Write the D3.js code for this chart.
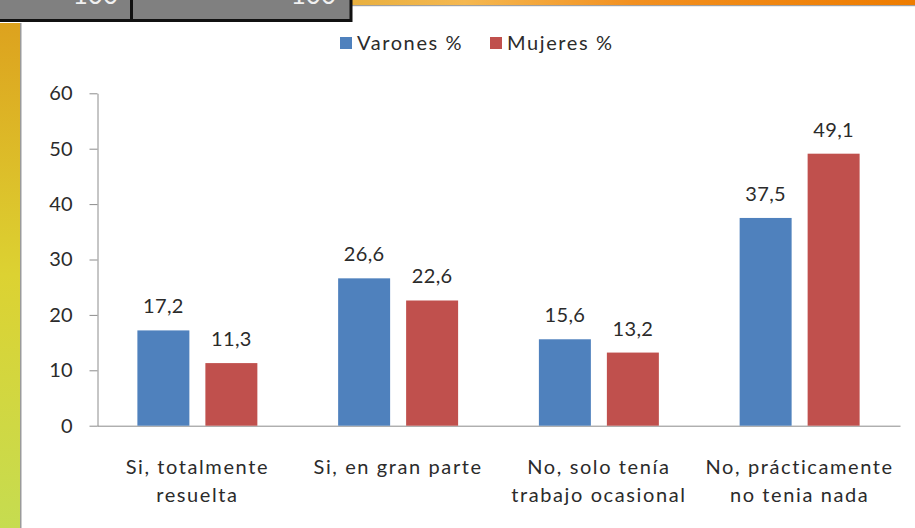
<!DOCTYPE html>
<html><head><meta charset="utf-8">
<script src="https://cdn.jsdelivr.net/npm/d3@7"></script>
<style>html,body{margin:0;padding:0;background:#fff;}svg{display:block;}</style>
</head><body>
<svg id="chart" width="915" height="528"></svg>
<script>
const categories = [["Si, totalmente","resuelta"],["Si, en gran parte"],["No, solo tenía","trabajo ocasional"],["No, prácticamente","no tenia nada"]];
const seriesNames = ["Varones %","Mujeres %"];
const varones = [17.2, 26.6, 15.6, 37.5];
const mujeres = [11.3, 22.6, 13.2, 49.1];
const yTicks = [0,10,20,30,40,50,60];
const headerLabels = ["100","100"];
const colors = ["#4f81bd","#c0504d"];
const FONT = "Lato, 'Open Sans', sans-serif";

const svg = d3.select("#chart");
const defs = svg.append("defs");
const g1 = defs.append("linearGradient").attr("id","leftGrad").attr("x1",0).attr("x2",0).attr("y1",0).attr("y2",1);
g1.append("stop").attr("offset","0%").attr("stop-color","#dda21e");
g1.append("stop").attr("offset","50%").attr("stop-color","#dcd232");
g1.append("stop").attr("offset","100%").attr("stop-color","#c6dc50");
const g2 = defs.append("linearGradient").attr("id","topGrad").attr("x1",0).attr("x2",1).attr("y1",0).attr("y2",0);
g2.append("stop").attr("offset","0%").attr("stop-color","#e8b040");
g2.append("stop").attr("offset","20%").attr("stop-color","#f5b850");
g2.append("stop").attr("offset","50%").attr("stop-color","#f29020");
g2.append("stop").attr("offset","100%").attr("stop-color","#ee7c00");

// decorations
svg.append("rect").attr("x",0).attr("y",23).attr("width",20).attr("height",505).attr("fill","url(#leftGrad)");
svg.append("rect").attr("x",20).attr("y",23).attr("width",1.5).attr("height",505).attr("fill","#9a9a9a");
svg.append("rect").attr("x",352).attr("y",0).attr("width",563).attr("height",5).attr("fill","url(#topGrad)");
svg.append("rect").attr("x",352).attr("y",5).attr("width",563).attr("height",1.2).attr("fill","#a0a0a0");
svg.append("rect").attr("x",-2).attr("y",-2).attr("width",353).attr("height",22.5).attr("fill","#808080").attr("stroke","#111").attr("stroke-width",3);
svg.append("rect").attr("x",130).attr("y",0).attr("width",3).attr("height",19).attr("fill","#111");
svg.selectAll("text.hdr").data(headerLabels).join("text").attr("class","hdr")
  .attr("x",(d,i)=> i===0 ? 118 : 336).attr("y",4).attr("text-anchor","end")
  .attr("font-family",FONT).attr("font-size",26).attr("fill","#f0f0f0").text(d=>d);

const x0 = d3.scaleBand().domain(d3.range(categories.length)).range([97, 900]).paddingInner(0).paddingOuter(0);
const x1 = d3.scaleBand().domain(seriesNames).range([0, x0.bandwidth()]).paddingInner(16/68).paddingOuter(0.594);
const y = d3.scaleLinear().domain([0,60]).range([425.7, 93.3]);

const yAxis = svg.append("g").attr("transform","translate(97.5,0)")
  .call(d3.axisLeft(y).tickValues(yTicks).tickSize(8).tickPadding(17).tickSizeOuter(0));
yAxis.select(".domain").attr("stroke","#8c8c8c");
yAxis.selectAll(".tick line").attr("stroke","#8c8c8c");
yAxis.selectAll(".tick text").attr("font-family",FONT).attr("font-size",20).attr("fill","#2b2b2b");

const xAxis = svg.append("g").attr("transform","translate(0,425.7)")
  .call(d3.axisBottom(x0).tickSize(0).tickSizeOuter(0).tickFormat(""));
xAxis.select(".domain").attr("stroke","#8c8c8c");

const data = categories.map((c,i)=>({i, vals:[varones[i], mujeres[i]]}));
const groups = svg.append("g").selectAll("g").data(data).join("g")
  .attr("transform", d=>`translate(${x0(d.i)},0)`);
groups.selectAll("rect").data(d=>d.vals.map((v,k)=>({v, s:seriesNames[k], k}))).join("rect")
  .attr("x", d=>x1(d.s)).attr("width", x1.bandwidth())
  .attr("y", d=>y(d.v)).attr("height", d=>y(0)-y(d.v)).attr("fill", d=>colors[d.k]);
groups.selectAll("text").data(d=>d.vals.map((v,k)=>({v, s:seriesNames[k], k}))).join("text")
  .attr("x", d=>x1(d.s)+x1.bandwidth()/2).attr("y", d=>y(d.v)-17)
  .attr("text-anchor","middle").attr("font-family",FONT).attr("font-size",20).attr("letter-spacing",0.4).attr("fill","#2b2b2b")
  .text(d=>d3.format(".1f")(d.v).replace(".",","));

// category labels
const cl = svg.append("g").selectAll("text").data(categories).join("text")
  .attr("x",(d,i)=>x0(i)+x0.bandwidth()/2).attr("y",474)
  .attr("text-anchor","middle").attr("font-family",FONT).attr("font-size",20).attr("letter-spacing",1.6).attr("fill","#2b2b2b");
cl.selectAll("tspan").data(d=>d).join("tspan")
  .attr("x",function(){return this.parentNode.getAttribute("x");})
  .attr("dy",(d,i)=> i===0 ? 0 : 28).text(d=>d);

// legend
const legX = [340, 490];
const leg = svg.append("g").selectAll("g").data(seriesNames).join("g")
  .attr("transform",(d,i)=>`translate(${legX[i]},37)`);
leg.append("rect").attr("width",12).attr("height",12).attr("fill",(d,i)=>colors[i]);
leg.append("text").attr("x",17).attr("y",13).attr("font-family",FONT).attr("font-size",20).attr("letter-spacing",1.6).attr("fill","#2b2b2b").text(d=>d);
</script>
</body></html>
